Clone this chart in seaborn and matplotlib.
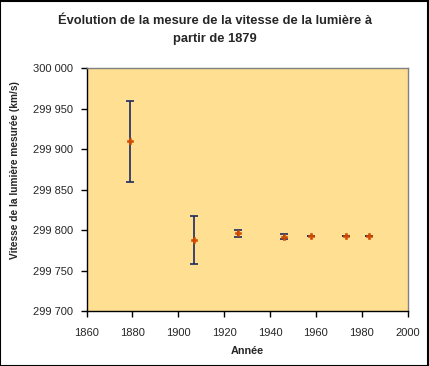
import matplotlib
matplotlib.use("Agg")
import matplotlib.pyplot as plt
import seaborn as sns
import pandas as pd
from matplotlib.ticker import FuncFormatter, MultipleLocator

years = [1879, 1907, 1926, 1946, 1958, 1973, 1983]
speeds = [299910, 299788, 299796, 299792, 299792.5, 299792.457, 299792.458]
errors = [50, 30, 4, 3, 0.1, 0.001, 0.0]

df = pd.DataFrame({"Année": years, "Vitesse": speeds, "Erreur": errors})

sns.set_theme(style="white")
plt.rcParams['font.family'] = ['Liberation Sans', 'DejaVu Sans']

fig = plt.figure(figsize=(4.29, 3.66), dpi=100)
fig.patch.set_facecolor("white")
ax = fig.add_axes([0.202, 0.150, 0.748, 0.663])
ax.set_facecolor("#FFE092")

ax.errorbar(df["Année"], df["Vitesse"], yerr=df["Erreur"], fmt="none",
            ecolor="#1F2A60", elinewidth=1.2, capsize=2.7, capthick=1.2, zorder=2)
sns.scatterplot(data=df, x="Année", y="Vitesse", ax=ax, marker="P", s=15,
                color="#D04A00", edgecolor="#D04A00", linewidth=0.4, zorder=3)

ax.set_xlim(1860, 2000)
ax.set_ylim(299700, 300000)
ax.xaxis.set_major_locator(MultipleLocator(20))
ax.yaxis.set_major_locator(MultipleLocator(50))
ax.yaxis.set_major_formatter(FuncFormatter(lambda v, p: f"{int(round(v)):,}".replace(",", " ")))

ax.tick_params(axis="both", which="major", direction="out", length=4, width=1,
               color="black", labelsize=8, left=True, bottom=True)
ax.tick_params(axis="x", pad=8)
ax.tick_params(axis="y", pad=6)
for s in ["left", "bottom"]:
    ax.spines[s].set_color("black")
    ax.spines[s].set_linewidth(1)
for s in ["top", "right"]:
    ax.spines[s].set_color("#808080")
    ax.spines[s].set_linewidth(1)

ax.set_xlabel("Année", fontsize=7.8, fontweight="bold", labelpad=6)
ax.set_ylabel("Vitesse de la lumière mesurée (km/s)", fontsize=7.3, fontweight="bold")
ax.yaxis.set_label_coords(-0.207, 0.58)
fig.text(0.5, 0.918, "Évolution de la mesure de la vitesse de la lumière à\npartir de 1879",
         ha="center", va="center", fontsize=9.3, fontweight="bold", linespacing=1.75)

border = plt.Rectangle((0.001, 0.001), 0.997, 0.996, transform=fig.transFigure,
                       fill=False, edgecolor="black", linewidth=1.5)
fig.patches.append(border)

fig.savefig("out.png", dpi=100)
